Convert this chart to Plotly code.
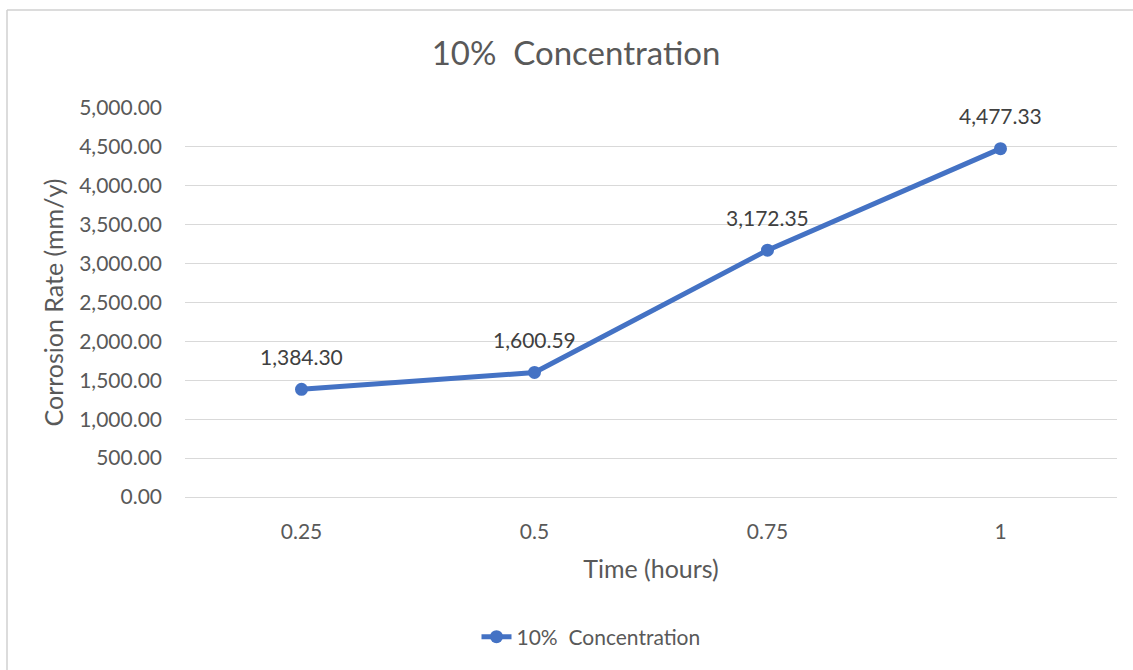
import plotly.graph_objects as go

# Corrosion rate measurements at 10% concentration
time_hours = ["0.25", "0.5", "0.75", "1"]
corrosion_rate = [1384.30, 1600.59, 3172.35, 4477.33]
series_name = "10%  Concentration"

W, H = 1133, 670
L, R, T, B = 185, 1117, 108, 497  # plot area in pixels

def px_x(x):
    return (x - L) / (R - L)

def px_y(y):
    return (B - y) / (B - T)

FONT = "Lato, Open Sans, sans-serif"
GREY = "#595959"
BLUE = "#4472C4"

fig = go.Figure(
    go.Scatter(
        x=time_hours,
        y=corrosion_rate,
        mode="lines+markers",
        name=series_name,
        line=dict(color=BLUE, width=5),
        marker=dict(color=BLUE, size=13),
        cliponaxis=False,
    )
)

# value labels above each point (category index positions)
for i, v in enumerate(corrosion_rate):
    fig.add_annotation(
        x=i, y=v, text=f"{v:,.2f}", showarrow=False,
        yshift=33, font=dict(family=FONT, size=21, color="#404040"),
    )

fig.update_layout(
    width=W,
    height=H,
    margin=dict(l=L, r=W - R, t=T, b=H - B),
    paper_bgcolor="white",
    plot_bgcolor="white",
    font=dict(family=FONT, color=GREY, size=21),
    title=dict(
        text=series_name,
        x=576 / W,
        xanchor="center",
        y=1 - 53 / H,
        yanchor="middle",
        font=dict(family=FONT, size=33, color=GREY),
    ),
    xaxis=dict(
        type="category",
        range=[-0.5, 3.5],
        showgrid=False,
        showline=False,
        zeroline=False,
        ticks="",
        ticklabelstandoff=20,
        tickfont=dict(size=21, color=GREY),
        title=dict(text="Time (hours)", font=dict(size=25, color=GREY), standoff=18),
    ),
    yaxis=dict(
        range=[0, 5000],
        dtick=500,
        tickformat=",.2f",
        showgrid=True,
        gridcolor="#d9d9d9",
        gridwidth=1,
        zeroline=True,
        zerolinecolor="#d9d9d9",
        zerolinewidth=1,
        showline=False,
        ticks="",
        ticklabelstandoff=22,
        tickfont=dict(size=21, color=GREY),
        title=dict(text="Corrosion Rate (mm/y)", font=dict(size=25, color=GREY), standoff=8),
    ),
    showlegend=True,
    legend=dict(
        orientation="h",
        x=px_x(591),
        xanchor="center",
        y=px_y(637),
        yanchor="middle",
        font=dict(size=21, color=GREY),
    ),
    shapes=[
        dict(type="line", xref="paper", yref="paper",
             x0=px_x(7), x1=px_x(W + 5), y0=px_y(10), y1=px_y(10),
             line=dict(color="#d0d0d0", width=1.5)),
        dict(type="line", xref="paper", yref="paper",
             x0=px_x(7), x1=px_x(7), y0=px_y(10), y1=px_y(H + 5),
             line=dict(color="#d0d0d0", width=1.5)),
    ],
)

fig.write_html("out.html")
